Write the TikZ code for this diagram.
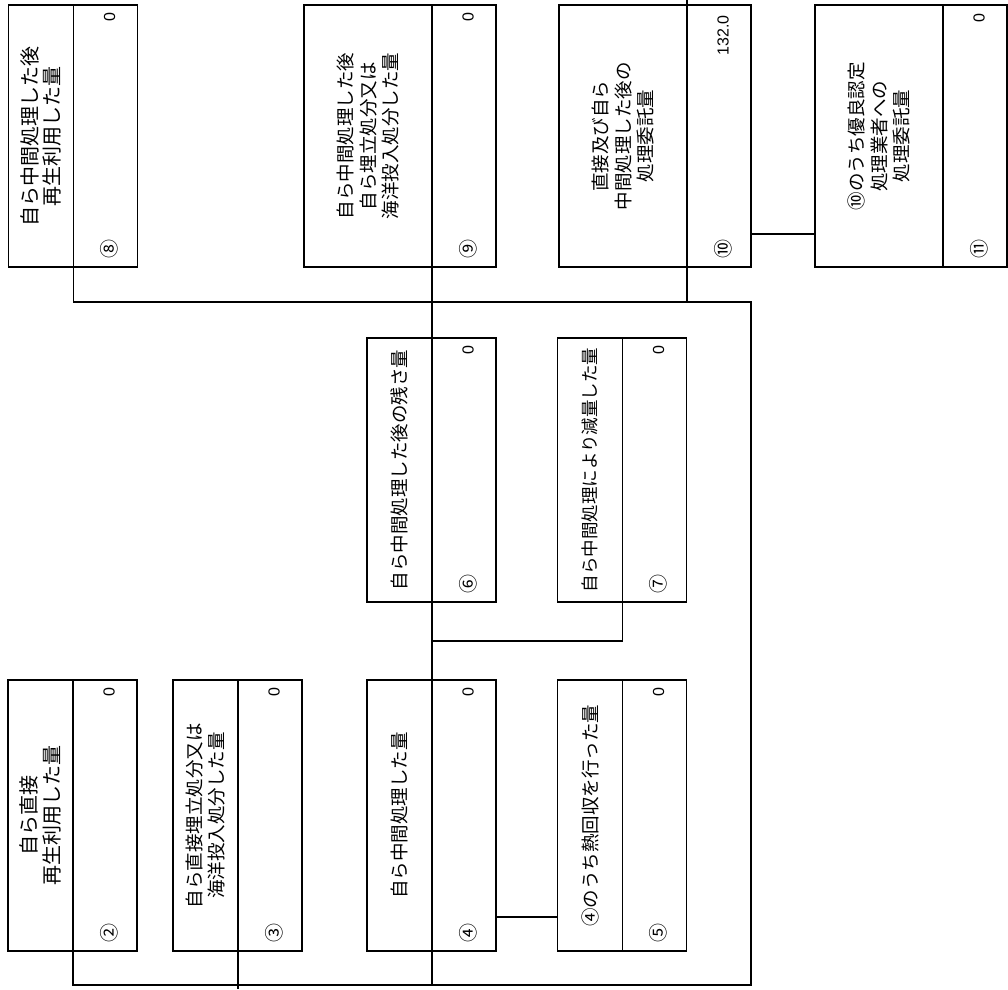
\documentclass[tikz,border=0pt]{standalone}
\usepackage{fontspec}
\newfontfamily\jpfont{Noto Sans CJK JP}
\newfontfamily\numfont{Liberation Sans}
\usetikzlibrary{positioning,calc}

\begin{document}
\begin{tikzpicture}[
    x=1pt, y=-1pt,
    line width=1.2pt,
    part/.style={
        rectangle,
        draw,
        inner sep=0pt,
        outer sep=0pt,
        minimum height=#1
    },
    narrow/.style={part=#1, minimum width=65pt},
    wide/.style={part=#1, minimum width=128pt},
    cell/.style={part=#1, minimum width=64pt},
    txt/.style={
        rotate=90,
        align=center,
        inner sep=0pt,
        font=\jpfont\fontsize{18.5}{22.5}\selectfont
    },
    amt/.style={
        rotate=90,
        anchor=east,
        inner sep=0pt,
        font=\numfont\fontsize{16}{18}\selectfont
    },
    idx/.style={
        rotate=90,
        anchor=west,
        inner sep=0pt,
        font=\jpfont\fontsize{19}{20}\selectfont
    }
]
\useasboundingbox (0,0) rectangle (1008,989);

% top row
\node[narrow=262pt] (lab8) at (41,136) {};
\node[cell=262pt, right=0pt of lab8] (val8) {};
\node[wide=262pt] (lab9) at (368,136) {};
\node[cell=262pt, right=0pt of lab9] (val9) {};
\node[wide=262pt] (lab10) at (623,136) {};
\node[cell=262pt, right=0pt of lab10] (val10) {};
\node[wide=262pt] (lab11) at (879,136) {};
\node[cell=262pt, right=0pt of lab11] (val11) {};

\node[txt, font=\jpfont\fontsize{20}{22.5}\selectfont] (t8) at (lab8) {自ら中間処理した後\\再生利用した量};
\node[txt] (t9) at (lab9) {自ら中間処理した後\\自ら埋立処分又は\\海洋投入処分した量};
\node[txt] (t10) at (lab10) {直接及び自ら\\中間処理した後の\\処理委託量};
\node[txt] (t11) at (lab11) {⑩のうち優良認定\\処理業者への\\処理委託量};

% middle row
\node[narrow=264pt] (lab6) at (399.5,470) {};
\node[cell=264pt, right=0pt of lab6] (val6) {};
\node[narrow=264pt] (lab7) at (590,470) {};
\node[cell=264pt, right=0pt of lab7] (val7) {};

\node[txt] (t6) at (lab6) {自ら中間処理した後の残さ量};
\node[txt, font=\jpfont\fontsize{17.5}{22.5}\selectfont] (t7) at (lab7) {自ら中間処理により減量した量};

% bottom row
\node[narrow=271pt] (lab2) at (40.5,815.5) {};
\node[cell=271pt, right=0pt of lab2] (val2) {};
\node[narrow=271pt] (lab3) at (205.5,815.5) {};
\node[cell=271pt, right=0pt of lab3] (val3) {};
\node[narrow=271pt] (lab4) at (399.5,815.5) {};
\node[cell=271pt, right=0pt of lab4] (val4) {};
\node[narrow=271pt] (lab5) at (590,815.5) {};
\node[cell=271pt, right=0pt of lab5] (val5) {};

\node[txt, font=\jpfont\fontsize{20}{22.5}\selectfont] (t2) at (lab2) {自ら直接\\再生利用した量};
\node[txt] (t3) at (lab3) {自ら直接埋立処分又は\\海洋投入処分した量};
\node[txt] (t4) at (lab4) {自ら中間処理した量};
\node[txt] (t5) at (lab5) {④のうち熱回収を行った量};

% amounts and numbers
\node[amt] (a8) at ($(val8.north)+(4,7)$) {0};
\node[amt] (a9) at ($(val9.north)+(4,7)$) {0};
\node[amt] (a10) at ($(val10.north)+(4,10)$) {132.0};
\node[amt] (a11) at ($(val11.north)+(4,8)$) {0};
\node[amt] (a6) at ($(val6.north)+(4,7)$) {0};
\node[amt] (a7) at ($(val7.north)+(4,7)$) {0};
\node[amt] (a2) at ($(val2.north)+(4,7)$) {0};
\node[amt] (a3) at ($(val3.north)+(4,7)$) {0};
\node[amt] (a4) at ($(val4.north)+(4,7)$) {0};
\node[amt] (a5) at ($(val5.north)+(4,7)$) {0};

\node[idx] (n8) at ($(val8.south)+(4,-8)$) {⑧};
\node[idx] (n9) at ($(val9.south)+(4,-8)$) {⑨};
\node[idx] (n10) at ($(val10.south)+(4,-8)$) {⑩};
\node[idx] (n11) at ($(val11.south)+(4,-8)$) {⑪};
\node[idx] (n6) at ($(val6.south)+(4,-8)$) {⑥};
\node[idx] (n7) at ($(val7.south)+(4,-8)$) {⑦};
\node[idx] (n2) at ($(val2.south)+(4,-8)$) {②};
\node[idx] (n3) at ($(val3.south)+(4,-8)$) {③};
\node[idx] (n4) at ($(val4.south)+(4,-8)$) {④};
\node[idx] (n5) at ($(val5.south)+(4,-8)$) {⑤};

% connectors
\coordinate (bus top) at (0,302);
\coordinate (bus bot) at (0,985);
\coordinate (top10) at (687,0);
\coordinate (bot3) at (238,989);
\coordinate (join7) at (0,641);
\coordinate (link45) at (0,917);
\coordinate (link1011) at (0,234);

\draw (val8.south west) |- (bus top -| val10.south east)
    -- (bus bot -| val10.south east) -| (val2.south west);
\draw (val9.north west) -- (val9.north west |- bus bot);
\draw (top10) -- (val10.north west);
\draw (val10.south west) -- (val10.south west |- bus top);
\draw (val3.south west) -- (bot3);
\draw (val7.south west) |- (val6.south west |- join7);
\draw (val4.east |- link45) -- (lab5.west |- link45);
\draw (val10.east |- link1011) -- (lab11.west |- link1011);

\end{tikzpicture}
\end{document}
